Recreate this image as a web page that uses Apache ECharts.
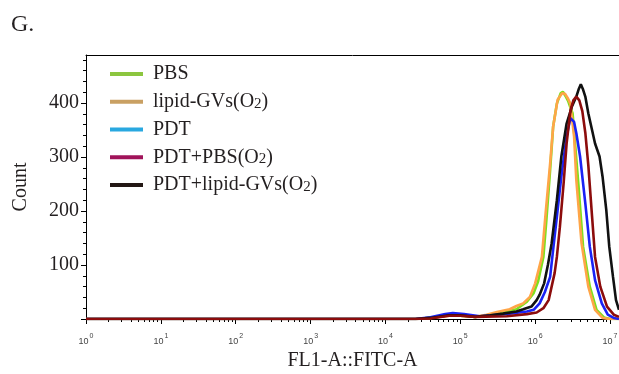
<!DOCTYPE html>
<html>
<head>
<meta charset="utf-8">
<script src="https://cdn.jsdelivr.net/npm/echarts@6/dist/echarts.min.js"></script>
<style>
  html, body { margin: 0; padding: 0; background: #fff; }
  #chart { width: 619px; height: 374px; }
</style>
</head>
<body>
<div id="chart"></div>
<script>
// FL1-A::FITC-A histograms; x values are log10 of fluorescence intensity
const seriesNames = ['PBS', 'lipid-GVs(O2)', 'PDT', 'PDT+PBS(O2)', 'PDT+lipid-GVs(O2)'];

const pbs = [[0,0],[4.4,0],[4.6,2],[4.85,7],[5.0,6],[5.2,4],[5.35,6],[5.53,10],[5.75,18],[5.89,32],[5.98,48],[6.04,70],[6.11,115],[6.15,183],[6.2,276],[6.24,356],[6.29,399],[6.34,418],[6.37,421],[6.41,412],[6.44,404],[6.47,392],[6.5,381],[6.53,330],[6.58,245],[6.64,134],[6.73,60],[6.82,17],[6.92,3],[7.0,0],[7.12,0]];

const lipidGVs = [[0,0],[4.4,0],[4.6,2],[4.85,6],[5.0,6],[5.2,4],[5.35,8],[5.49,13],[5.66,18],[5.75,24],[5.84,29],[5.93,41],[6.0,66],[6.09,115],[6.14,196],[6.2,288],[6.24,356],[6.3,406],[6.36,418],[6.4,417],[6.44,408],[6.47,399],[6.52,338],[6.55,257],[6.62,140],[6.71,60],[6.8,17],[6.9,2],[7.0,0],[7.12,0]];

const pdt = [[0,0],[4.4,0],[4.6,3],[4.8,9],[4.9,11],[5.05,9],[5.26,5],[5.5,8],[5.66,10],[5.89,14],[5.98,17],[6.06,29],[6.13,50],[6.2,78],[6.24,128],[6.29,189],[6.35,264],[6.42,338],[6.47,372],[6.49,375],[6.52,365],[6.55,344],[6.6,301],[6.67,214],[6.73,134],[6.8,72],[6.89,29],[6.97,8],[7.05,2],[7.12,0]];

const pdtPbs = [[0,0],[4.4,0],[4.6,1],[4.85,6],[5.0,6],[5.2,4],[5.62,5],[5.89,9],[6.02,12],[6.11,20],[6.18,35],[6.22,60],[6.26,85],[6.29,115],[6.33,170],[6.38,251],[6.42,325],[6.47,385],[6.51,405],[6.55,412],[6.59,405],[6.63,385],[6.67,345],[6.71,285],[6.76,190],[6.8,115],[6.87,60],[6.96,23],[7.05,8],[7.12,4]];

const pdtLipidGVs = [[0,0],[4.4,0],[4.6,2],[4.85,7],[5.0,7],[5.2,4],[5.4,7],[5.57,10],[5.75,14],[5.84,18],[5.95,23],[6.02,35],[6.06,45],[6.12,66],[6.17,100],[6.22,140],[6.29,220],[6.35,301],[6.42,362],[6.49,393],[6.55,412],[6.58,425],[6.61,435],[6.64,425],[6.67,412],[6.71,381],[6.76,350],[6.8,325],[6.86,301],[6.9,264],[6.95,202],[6.99,134],[7.04,78],[7.08,35],[7.12,17]];

const lineColors = ['#7ee01c', '#ffa548', '#1a22f5', '#8c0c0c', '#111111'];
const legendColors = ['#8cc63f', '#c9a063', '#29a8e0', '#a0135a', '#231815'];

const decadeTicks = [0, 1, 2, 3, 4, 5, 6, 7];
const countTicks = [0, 100, 200, 300, 400];
const countLabels = [100, 200, 300, 400];

const X_MAX = 7.12;
const Y_MAX = 489;

// log-spaced minor ticks (2..9 × 10^n) in decade units
const minorDecades = [];
for (let n = 0; n < 8; n++) {
  for (let k = 2; k <= 9; k++) {
    const v = n + Math.log10(k);
    if (v < X_MAX) minorDecades.push(v);
  }
}
const minorCounts = [];
for (let c = 20; c < Y_MAX; c += 20) if (c % 100 !== 0) minorCounts.push(c);

const serif = 'Liberation Serif';
const textColor = '#231f20';

const dataSets = [pbs, lipidGVs, pdt, pdtPbs, pdtLipidGVs];
// draw order: PDT+PBS(O2) sits on top
const drawOrder = [0, 1, 2, 4, 3];

const chart = echarts.init(document.getElementById('chart'), null, { renderer: 'canvas' });

chart.setOption({
  animation: false,
  backgroundColor: '#fff',
  grid: { left: 86, right: 0, top: 55, bottom: 55, containLabel: false, outerBoundsMode: 'none' },
  graphic: [{
    type: 'text', left: 11, top: 13,
    style: { text: 'G.', font: '24px "Liberation Serif"', fill: textColor }
  }],
  legend: {
    orient: 'vertical',
    left: 105, top: 58,
    icon: 'rect',
    itemWidth: 33, itemHeight: 4, itemGap: 5.75,
    selectedMode: false,
    data: seriesNames.map((n, i) => ({ name: n, itemStyle: { color: legendColors[i] } })),
    formatter: n => n.replace(/O2/g, 'O{sub|2}'),
    textStyle: {
      fontFamily: serif, fontSize: 20, color: textColor, lineHeight: 22,
      padding: [0, 0, 0, 5],
      rich: { sub: { fontFamily: serif, fontSize: 15, color: textColor, padding: [4, 0, 0, 0] } }
    }
  },
  xAxis: [{
    type: 'value', min: 0, max: X_MAX, position: 'bottom',
    name: 'FL1-A::FITC-A', nameLocation: 'middle', nameGap: 30,
    nameTextStyle: { fontFamily: serif, fontSize: 20, color: textColor },
    axisLine: { show: true, onZero: false, lineStyle: { color: '#000', width: 1 } },
    axisTick: { show: true, customValues: decadeTicks, length: 5, lineStyle: { color: '#000' } },
    axisLabel: {
      show: true, customValues: decadeTicks, margin: 13,
      formatter: v => '{b|10}{s|' + v + '}',
      rich: {
        b: { fontFamily: 'Liberation Sans', fontSize: 9, color: '#444', padding: [5, 0, 0, 0] },
        s: { fontFamily: 'Liberation Sans', fontSize: 7, color: '#444', padding: [0, 0, 5, 1] }
      }
    },
    splitLine: { show: false }
  }, {
    type: 'value', min: 0, max: X_MAX, position: 'bottom', offset: 0,
    axisLine: { show: false, onZero: false },
    axisTick: { show: true, customValues: minorDecades, length: 3, lineStyle: { color: '#000' } },
    axisLabel: { show: false },
    splitLine: { show: false }
  }, {
    type: 'value', min: 0, max: X_MAX, position: 'top', offset: 0,
    axisLine: { show: true, onZero: false, lineStyle: { color: '#000', width: 1 } },
    axisTick: { show: false }, axisLabel: { show: false }, splitLine: { show: false }
  }],
  yAxis: [{
    type: 'value', min: 0, max: Y_MAX, position: 'left',
    name: 'Count', nameLocation: 'middle', nameGap: 55, nameRotate: 90,
    nameTextStyle: { fontFamily: serif, fontSize: 20, color: textColor },
    axisLine: { show: true, onZero: false, lineStyle: { color: '#000', width: 1 } },
    axisTick: { show: true, customValues: countTicks, length: 5, lineStyle: { color: '#000' } },
    axisLabel: { show: true, customValues: countLabels, margin: 7, fontFamily: serif, fontSize: 20, color: textColor },
    splitLine: { show: false }
  }, {
    type: 'value', min: 0, max: Y_MAX, position: 'left', offset: 0,
    axisLine: { show: false, onZero: false },
    axisTick: { show: true, customValues: minorCounts, length: 3, lineStyle: { color: '#000' } },
    axisLabel: { show: false }, splitLine: { show: false }
  }],
  series: drawOrder.map(i => ({
    name: seriesNames[i],
    type: 'line',
    xAxisIndex: 0, yAxisIndex: 0,
    data: dataSets[i],
    symbol: 'none',
    smooth: false,
    lineStyle: { color: lineColors[i], width: 2.6 },
    itemStyle: { color: lineColors[i] },
    emphasis: { disabled: true },
    z: 2
  }))
});
</script>
</body>
</html>
